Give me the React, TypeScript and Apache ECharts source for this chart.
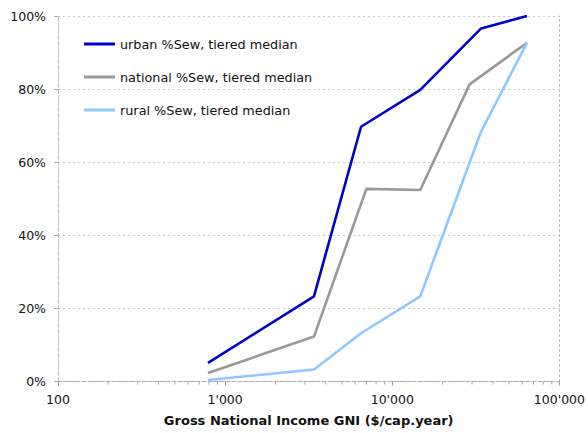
import React, { useEffect, useRef } from "react";
import * as echarts from "echarts";

// Gross National Income ($/cap.year) and share with sewer connection (%)
const urbanGni = [790, 3400, 6500, 14700, 34000, 64000];
const urbanSew = [5.1, 23.3, 69.7, 79.8, 96.6, 100];
const nationalGni = [790, 3400, 7000, 14700, 29000, 64000];
const nationalSew = [2.3, 12.3, 52.7, 52.4, 81.3, 92.7];
const ruralGni = [790, 3400, 6500, 14700, 34000, 64000];
const ruralSew = [0.4, 3.3, 13.2, 23.3, 68.4, 92.7];

const seriesNames = [
  "urban %Sew, tiered median",
  "national %Sew, tiered median",
  "rural %Sew, tiered median",
];

// intermediate log ticks (2..9 of each decade)
const minorTicks = [
  200, 300, 400, 500, 600, 700, 800, 900,
  2000, 3000, 4000, 5000, 6000, 7000, 8000, 9000,
  20000, 30000, 40000, 50000, 60000, 70000, 80000, 90000,
];

const FONT = "'DejaVu Sans', Verdana, sans-serif";

const pairs = (xs: number[], ys: number[]) => xs.map((x, i) => [x, ys[i]]);

const fmtThousands = (v: number) =>
  String(Math.round(v)).replace(/\B(?=(\d{3})+(?!\d))/g, "'");

export default function App() {
  const ref = useRef<HTMLDivElement>(null);

  useEffect(() => {
    if (!ref.current) return;
    const chart = echarts.init(ref.current, undefined, { renderer: "svg" });
    const lineSeries = (name: string, data: number[][], color: string) => ({
      name,
      type: "line",
      data,
      showSymbol: false,
      symbol: "none",
      lineStyle: { color, width: 2.6 },
      itemStyle: { color },
      z: 3,
    });

    chart.setOption({
      animation: false,
      backgroundColor: "#ffffff",
      grid: { left: 58, right: 25.5, top: 16, bottom: 51.5 },
      legend: {
        orient: "vertical",
        left: 79,
        top: 32,
        itemWidth: 31,
        itemHeight: 3,
        itemGap: 19,
        icon: "rect",
        data: seriesNames,
        textStyle: { fontFamily: FONT, fontSize: 12.8, color: "#111", lineHeight: 14 },
      },
      xAxis: {
        type: "log",
        logBase: 10,
        min: 100,
        max: 100000,
        name: "Gross National Income GNI ($/cap.year)",
        nameLocation: "middle",
        nameGap: 32,
        nameTextStyle: { fontFamily: FONT, fontSize: 13, fontWeight: "bold", color: "#111" },
        axisLine: { show: true, lineStyle: { color: "#aaaaaa", type: [4, 2], width: 1 } },
        axisTick: { show: true, length: 4, lineStyle: { color: "#999999" } },
        axisLabel: {
          margin: 11,
          fontFamily: FONT,
          fontSize: 12.5,
          color: "#111",
          formatter: (v: number) => fmtThousands(v),
        },
        splitLine: { show: false },
      },
      yAxis: [
        {
          type: "value",
          min: 0,
          max: 100,
          interval: 20,
          axisLine: { show: true, lineStyle: { color: "#bbbbbb", type: [4, 2], width: 1 } },
          axisTick: { show: true, length: 4, lineStyle: { color: "#aaaaaa" } },
          axisLabel: {
            margin: 12,
            fontFamily: FONT,
            fontSize: 12.5,
            color: "#111",
            formatter: "{value}%",
          },
          splitLine: { show: true, lineStyle: { color: "#c8c8c8", type: [2, 3], width: 1 } },
        },
        {
          type: "value",
          min: 0,
          max: 100,
          interval: 20,
          position: "right",
          axisLine: { show: true, lineStyle: { color: "#bbbbbb", type: [2, 3], width: 1 } },
          axisTick: { show: false },
          axisLabel: { show: false },
          splitLine: { show: false },
        },
      ],
      series: [
        lineSeries(seriesNames[0], pairs(urbanGni, urbanSew), "#0000cc"),
        lineSeries(seriesNames[1], pairs(nationalGni, nationalSew), "#999999"),
        lineSeries(seriesNames[2], pairs(ruralGni, ruralSew), "#8ec8ff"),
        {
          type: "custom",
          name: "minor-ticks",
          silent: true,
          clip: false,
          data: minorTicks.map((v) => [v, 0]),
          renderItem: (_params: any, api: any) => {
            const p = api.coord([api.value(0), 0]);
            return {
              type: "line",
              shape: { x1: p[0], y1: p[1], x2: p[0], y2: p[1] + 3 },
              style: { stroke: "#aaaaaa", lineWidth: 1 },
            };
          },
          z: 1,
        },
      ],
    });
    return () => chart.dispose();
  }, []);

  return (
    <div
      ref={ref}
      style={{ position: "fixed", left: 0, top: 0, width: 588, height: 433 }}
    />
  );
}
